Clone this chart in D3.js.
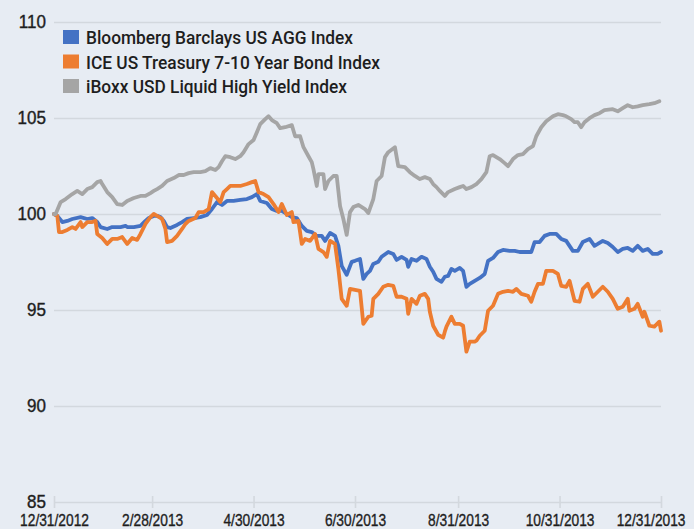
<!DOCTYPE html>
<html>
<head>
<meta charset="utf-8">
<script src="https://cdn.jsdelivr.net/npm/d3@7"></script>
<style>
  html, body { margin: 0; padding: 0; background: #e7ecf3; }
  svg { display: block; }
</style>
</head>
<body>
<script>
// ---------- DATA ----------
const seriesNames = [
  "Bloomberg Barclays US AGG Index",
  "ICE US Treasury 7-10 Year Bond Index",
  "iBoxx USD Liquid High Yield Index"
];
const seriesColors = ["#4472c4", "#ed7d31", "#a5a5a5"];

const startDate = "12/31/2012";
const xTickLabels = ["12/31/2012", "2/28/2013", "4/30/2013", "6/30/2013", "8/31/2013", "10/31/2013", "12/31/2013"];
const yTicks = [85, 90, 95, 100, 105, 110];

// days since 12/31/2012
const aggDays = [0,2,5,8,11,16,20,23,26,28,32,35,40,43,44,48,52,55,57,60,62,64,66,68,70,74,77,80,84,88,92,95,98,101,104,108,112,116,119,122,124,128,131,134,137,140,143,146,149,152,155,158,161,163,166,169,171,173,176,179,181,184,186,188,190,192,195,197,201,204,206,209,212,213,215,218,221,224,226,228,230,233,235,237,239,241,244,246,248,250,253,256,259,261,264,267,270,274,277,280,284,287,289,292,295,298,302,305,308,310,312,315,318,322,325,327,330,333,336,339,342,345,348,351,354,357,360,363,365];
const aggValues = [100,99.90,99.58,99.64,99.74,99.84,99.74,99.79,99.58,99.32,99.22,99.32,99.32,99.38,99.32,99.32,99.38,99.64,99.79,99.90,99.90,99.84,99.64,99.32,99.27,99.43,99.58,99.74,99.79,99.84,99.95,100.26,100.62,100.47,100.68,100.68,100.73,100.78,100.88,101.04,100.68,100.57,100.26,100.16,100.16,100.00,99.84,99.79,99.38,99.12,99.06,98.86,98.86,98.60,99.01,98.86,98.34,97.30,96.83,97.51,97.56,97.66,96.62,96.88,97.04,97.40,97.51,97.77,98.02,97.92,97.61,97.77,97.61,97.25,97.66,97.56,97.77,97.66,97.25,96.99,96.62,96.47,96.73,96.78,97.14,97.04,97.19,97.04,96.21,96.36,96.52,96.67,96.88,97.56,97.71,98.02,98.13,98.08,98.08,98.02,98.02,98.02,98.54,98.54,98.86,98.96,98.96,98.70,98.60,98.34,98.08,98.08,98.54,98.70,98.34,98.44,98.60,98.49,98.28,98.02,98.18,98.23,98.08,98.34,98.08,98.18,97.92,97.92,98.02];

const tsyDays = [0,2,3,5,8,11,13,16,17,20,23,25,26,29,32,35,38,41,44,47,50,52,55,58,60,62,65,67,68,71,74,77,79,81,85,87,90,93,95,97,100,102,104,106,108,112,116,119,121,123,126,129,132,135,137,140,143,144,147,149,151,154,157,159,162,164,166,169,171,173,176,178,181,184,186,189,191,192,195,198,201,204,206,209,212,213,215,218,220,223,225,226,228,231,234,235,236,239,241,244,246,248,250,253,254,256,259,261,264,267,270,273,276,278,281,285,287,289,291,294,296,300,303,305,308,310,313,316,318,321,324,327,330,333,336,339,342,345,346,349,351,354,355,358,361,364,365];
const tsyValues = [100,99.90,99.06,99.06,99.17,99.32,99.22,99.58,99.32,99.58,99.58,99.64,98.96,98.75,98.44,98.70,98.70,98.80,98.44,98.75,98.65,98.96,99.48,99.84,100.00,99.90,99.74,99.22,98.54,98.60,98.86,99.22,99.48,99.64,99.79,100.10,100.10,100.26,101.14,100.94,100.62,101.14,101.30,101.46,101.46,101.46,101.56,101.66,101.72,101.14,101.04,100.88,100.52,100.10,100.52,99.95,100.10,99.58,99.64,98.44,98.70,98.60,98.96,98.18,98.02,97.77,98.60,98.44,97.14,95.58,95.22,96.10,96.05,96.00,94.28,94.65,94.70,95.58,95.84,96.21,96.31,96.26,95.69,95.69,95.58,94.80,95.58,95.32,95.74,95.84,95.58,94.91,94.18,93.71,93.56,93.87,94.13,94.65,94.28,94.28,94.18,92.83,93.35,93.35,93.40,93.66,93.92,94.96,95.22,95.84,95.95,96.00,95.95,96.10,95.84,95.74,95.43,95.95,96.36,96.36,97.04,97.04,96.88,96.26,96.21,96.52,95.48,95.43,96.10,96.36,95.69,95.95,96.21,95.95,95.58,95.06,95.17,95.58,94.96,95.06,95.32,94.65,94.91,94.18,94.13,94.39,93.92];

const hyDays = [0,1,4,7,11,14,17,20,23,26,28,29,32,35,38,41,44,48,52,55,58,60,62,65,68,72,75,78,81,84,88,91,94,97,99,101,103,106,109,112,114,117,120,122,124,127,129,131,134,136,139,143,145,148,150,153,155,156,158,159,162,163,165,168,170,172,174,176,178,180,183,187,189,192,194,197,199,201,205,207,211,214,217,220,223,226,228,230,232,235,237,241,244,246,248,251,254,257,260,262,264,268,271,273,276,279,282,285,288,290,293,296,300,303,306,308,311,313,315,317,319,322,325,328,331,336,339,342,345,348,351,354,358,361,364];
const hyValues = [100,100,100.62,100.78,101.04,101.20,101.04,101.30,101.40,101.66,101.72,101.56,101.14,100.88,100.52,100.47,100.68,100.83,100.94,100.94,101.09,101.20,101.30,101.46,101.72,101.87,102.03,102.03,102.13,102.18,102.18,102.23,102.39,102.29,102.44,102.75,103.01,102.96,102.86,103.01,103.22,103.64,103.85,104.26,104.68,104.94,105.09,104.89,104.73,104.47,104.52,104.63,104.05,104.05,103.48,103.01,102.70,102.34,101.46,102.08,102.08,101.30,101.72,101.98,101.98,100.42,99.74,98.91,100.10,100.36,100.47,100.26,100.05,100.78,101.72,101.98,102.96,103.22,103.48,102.49,102.44,102.18,101.98,101.82,101.92,101.82,101.56,101.40,101.20,100.94,101.14,101.30,101.40,101.46,101.30,101.40,101.56,101.82,102.18,103.01,103.07,102.86,102.65,102.49,102.86,103.07,103.12,103.38,103.53,104.05,104.52,104.83,105.09,105.20,105.15,105.09,104.94,104.78,104.78,104.52,104.78,104.99,105.15,105.25,105.41,105.46,105.35,105.51,105.67,105.56,105.61,105.67,105.72,105.77,105.87];

// ---------- CHART ----------
const W = 694, H = 529;
const parse = d3.timeParse("%m/%d/%Y");
const t0 = parse(startDate);
const toSeries = (days, vals) => days.map((d, i) => ({ date: d3.timeDay.offset(t0, d), value: vals[i] }));
const series = [
  toSeries(aggDays, aggValues),
  toSeries(tsyDays, tsyValues),
  toSeries(hyDays, hyValues)
];

const svg = d3.select("body").append("svg").attr("width", W).attr("height", H);
svg.append("rect").attr("width", W).attr("height", H).attr("fill", "#e7ecf3");

const x = d3.scaleTime().domain([parse(xTickLabels[0]), parse(xTickLabels[xTickLabels.length - 1])]).range([54, 661]);
const y = d3.scaleLinear().domain([85, 110]).range([502, 22]);

const labelFont = "'Liberation Sans', Arial, sans-serif";
const ink = "#1e1e1e";

// grid lines via axis
const yAxis = d3.axisLeft(y).tickValues(yTicks).tickSize(-(661 - 54)).tickFormat(d3.format("d"));
const gy = svg.append("g").attr("transform", "translate(54,0)").call(yAxis);
gy.select(".domain").remove();
gy.selectAll(".tick line").attr("stroke", "#d3d8de").attr("stroke-width", 1.6);
gy.selectAll(".tick text")
  .attr("x", -8)
  .attr("dy", "0.3em")
  .attr("fill", ink)
  .attr("stroke", ink)
  .attr("stroke-width", 0.4)
  .style("font-family", labelFont)
  .style("font-size", "18.5px")
  .each(function () {
    const n = this.getComputedTextLength();
    d3.select(this).attr("textLength", n * 0.92).attr("lengthAdjust", "spacingAndGlyphs");
  });

// x axis: ticks crossing baseline
const xAxis = d3.axisBottom(x)
  .tickValues(xTickLabels.map(parse))
  .tickSizeInner(6).tickSizeOuter(0)
  .tickFormat((d, i) => xTickLabels[i]);
const gx = svg.append("g").attr("transform", "translate(0,502)").call(xAxis);
gx.select(".domain").remove();
gx.selectAll(".tick line").attr("y1", -6).attr("y2", 6).attr("stroke", "#d3d8de").attr("stroke-width", 1.6);
gx.selectAll(".tick text")
  .attr("y", 12.6)
  .attr("fill", ink)
  .attr("stroke", ink)
  .attr("stroke-width", 0.35)
  .style("font-family", labelFont)
  .style("font-size", "16px")
  .each(function (d) {
    const n = this.getComputedTextLength() * 0.86;
    const sel = d3.select(this).attr("textLength", n).attr("lengthAdjust", "spacingAndGlyphs");
    const cx = x(d);
    if (cx + n / 2 > W - 9) sel.attr("x", (W - 9) - n / 2 - cx);
    if (cx - n / 2 < 1) sel.attr("x", 1 + n / 2 - cx);
  });

// lines
const line = d3.line().x(d => x(d.date)).y(d => y(d.value)).curve(d3.curveLinear);
series.forEach((s, i) => {
  svg.append("path")
    .datum(s)
    .attr("fill", "none")
    .attr("stroke", seriesColors[i])
    .attr("stroke-width", 3.8)
    .attr("stroke-linejoin", "round")
    .attr("stroke-linecap", "round")
    .attr("d", line);
});

// legend
const legendWidths = [267, 294, 261];
const lg = svg.append("g").attr("transform", "translate(63,30)");
seriesNames.forEach((name, i) => {
  const row = lg.append("g").attr("transform", `translate(0,${i * 24.5})`);
  row.append("rect").attr("width", 16).attr("height", 14).attr("fill", seriesColors[i]);
  row.append("text")
    .attr("x", 23).attr("y", 14)
    .attr("fill", ink)
    .style("font-family", "Roboto, 'Liberation Sans', sans-serif")
    .style("font-size", "18px")
    .style("font-weight", 500)
    .attr("textLength", legendWidths[i])
    .attr("lengthAdjust", "spacingAndGlyphs")
    .text(name);
});
</script>
</body>
</html>
